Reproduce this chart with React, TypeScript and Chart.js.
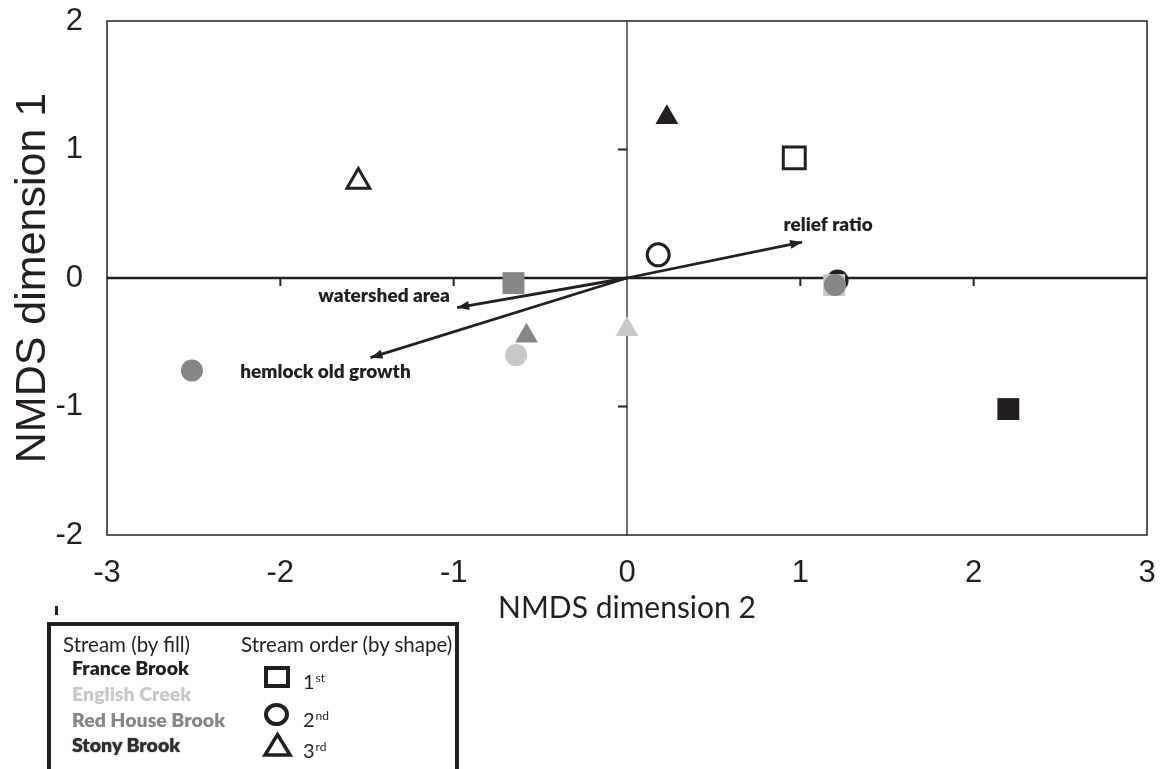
import React, { useEffect, useRef } from "react";
import { Chart, registerables } from "chart.js";
Chart.register(...registerables);

// ---- data ----
const streamNames = ["France Brook", "English Creek", "Red House Brook", "Stony Brook"];
const streamOrders = ["1st", "2nd", "3rd"];

const franceX = [2.2, 1.215, 0.23];
const franceY = [-1.02, -0.02, 1.25];
const franceOrder = [1, 2, 3];

const englishX = [1.195, -0.64, 0.0];
const englishY = [-0.055, -0.6, -0.4];
const englishOrder = [1, 2, 3];

const redHouseX = [-0.655, 1.2, -2.51, -0.58];
const redHouseY = [-0.04, -0.055, -0.72, -0.45];
const redHouseOrder = [1, 2, 2, 3];

const stonyX = [0.965, 0.18, -1.55];
const stonyY = [0.935, 0.18, 0.75];
const stonyOrder = [1, 2, 3];

const vectorLabels = ["relief ratio", "watershed area", "hemlock old growth"];
const vectorX = [1.01, -0.98, -1.48];
const vectorY = [0.28, -0.23, -0.62];

const xTicks = [-3, -2, -1, 0, 1, 2, 3];
const yTicks = [-2, -1, 0, 1, 2];

// ---- styles ----
const INK = "#231f20";
const LIGHT = "#c8c8c8";
const MID = "#868686";
const streamColors = [INK, LIGHT, MID, "#ffffff"];
const labelOffsets = [
  [26, -17],
  [-73, -12],
  [-45, 14],
];

const shapeFor = (o: number) => (o === 1 ? "rect" : o === 2 ? "circle" : "triangle");
const radiusFor = (o: number) => (o === 1 ? 15.5 : o === 2 ? 11 : 13.2);

function makePoints(xs: number[], ys: number[]) {
  return xs.map((x, i) => ({ x, y: ys[i] }));
}

const decorPlugin = {
  id: "decor",
  beforeDatasetsDraw(chart: any) {
    const { ctx, chartArea } = chart;
    const { left, right, top, bottom } = chartArea;
    const xs = chart.scales.x;
    const ys = chart.scales.y;
    const x0 = xs.getPixelForValue(0);
    const y0 = ys.getPixelForValue(0);
    ctx.save();
    ctx.strokeStyle = INK;
    ctx.lineWidth = 1.5;
    ctx.strokeRect(left, top, right - left, bottom - top);
    ctx.lineWidth = 2.5;
    ctx.beginPath();
    ctx.moveTo(left, y0);
    ctx.lineTo(right, y0);
    ctx.stroke();
    ctx.lineWidth = 1.3;
    ctx.beginPath();
    ctx.moveTo(x0, top);
    ctx.lineTo(x0, bottom);
    ctx.stroke();
    ctx.lineWidth = 2;
    xTicks
      .filter((v) => v !== 0 && v !== -3 && v !== 3)
      .forEach((v) => {
        const px = xs.getPixelForValue(v);
        ctx.beginPath();
        ctx.moveTo(px, y0);
        ctx.lineTo(px, y0 + 8);
        ctx.stroke();
      });
    yTicks
      .filter((v) => v !== 0 && v !== -2 && v !== 2)
      .forEach((v) => {
        const py = ys.getPixelForValue(v);
        ctx.beginPath();
        ctx.moveTo(x0 - 9, py);
        ctx.lineTo(x0, py);
        ctx.stroke();
      });
    ctx.restore();
  },
  afterDatasetsDraw(chart: any) {
    const { ctx } = chart;
    const xs = chart.scales.x;
    const ys = chart.scales.y;
    const ox = xs.getPixelForValue(0);
    const oy = ys.getPixelForValue(0);
    ctx.save();
    vectorX.forEach((vx, i) => {
      const tx = xs.getPixelForValue(vx);
      const ty = ys.getPixelForValue(vectorY[i]);
      const ang = Math.atan2(ty - oy, tx - ox);
      const len = 12;
      const hw = 4.5;
      const bx = tx - Math.cos(ang) * len;
      const by = ty - Math.sin(ang) * len;
      ctx.fillStyle = INK;
      ctx.beginPath();
      ctx.moveTo(tx, ty);
      ctx.lineTo(bx + Math.sin(ang) * hw, by - Math.cos(ang) * hw);
      ctx.lineTo(bx - Math.sin(ang) * hw, by + Math.cos(ang) * hw);
      ctx.closePath();
      ctx.fill();
      ctx.font = "800 19px Lato";
      ctx.textAlign = "center";
      ctx.textBaseline = "middle";
      ctx.fillText(vectorLabels[i], tx + labelOffsets[i][0], ty + labelOffsets[i][1]);
    });
    ctx.restore();
  },
};

export default function App() {
  const ref = useRef<HTMLCanvasElement>(null);
  useEffect(() => {
    if (!ref.current) return;
    const streamData = [
      { xs: franceX, ys: franceY, ord: franceOrder },
      { xs: englishX, ys: englishY, ord: englishOrder },
      { xs: redHouseX, ys: redHouseY, ord: redHouseOrder },
      { xs: stonyX, ys: stonyY, ord: stonyOrder },
    ];
    const drawOrder = [4, 3, 2, 1];
    const pointSets = streamData.map((s, i) => ({
      label: streamNames[i],
      data: makePoints(s.xs, s.ys),
      pointStyle: s.ord.map(shapeFor),
      pointRadius: s.ord.map(radiusFor),
      pointBackgroundColor: streamColors[i],
      pointBorderColor: i === 3 ? INK : streamColors[i],
      pointBorderWidth: i === 3 ? 3 : 0,
      showLine: false,
      order: drawOrder[i],
    }));
    const arrowSets = vectorX.map((vx, i) => ({
      label: vectorLabels[i],
      data: [
        { x: 0, y: 0 },
        { x: vx, y: vectorY[i] },
      ],
      showLine: true,
      borderColor: INK,
      borderWidth: 2.8,
      pointRadius: 0,
      order: 10,
    }));
    const chart = new Chart(ref.current, {
      type: "scatter",
      data: { datasets: [...arrowSets, ...pointSets] as any },
      options: {
        responsive: false,
        animation: false,
        events: [],
        layout: { autoPadding: false, padding: { left: 0, top: 21, right: 14, bottom: 134 } },
        plugins: { legend: { display: false }, tooltip: { enabled: false } },
        scales: {
          x: {
            type: "linear",
            min: -3,
            max: 3,
            afterFit: (s: any) => {
              s.height = 100;
              s.paddingLeft = 0;
              s.paddingRight = 0;
            },
            afterBuildTicks: (s: any) => {
              s.ticks = xTicks.map((v) => ({ value: v }));
            },
            grid: { display: false, drawTicks: false },
            border: { display: false },
            ticks: {
              padding: 20,
              color: INK,
              font: { family: "'Liberation Sans Narrow', 'Liberation Sans'", size: 31 },
              maxRotation: 0,
            },
            title: {
              display: true,
              text: "NMDS dimension 2",
              color: INK,
              font: { family: "Lato", size: 30 },
              padding: { top: 0, bottom: 9 },
            },
          },
          y: {
            type: "linear",
            min: -2,
            max: 2,
            afterFit: (s: any) => {
              s.width = 107;
              s.paddingTop = 0;
              s.paddingBottom = 0;
            },
            afterBuildTicks: (s: any) => {
              s.ticks = yTicks.map((v) => ({ value: v }));
            },
            grid: { display: false, drawTicks: false },
            border: { display: false },
            ticks: {
              padding: 24,
              color: INK,
              font: { family: "'Liberation Sans'", size: 31 },
            },
            title: {
              display: true,
              text: "NMDS dimension 1",
              color: INK,
              font: { family: "'Liberation Sans'", size: 43 },
              padding: { top: 7, bottom: 0 },
            },
          },
        },
      },
      plugins: [decorPlugin],
    });
    return () => chart.destroy();
  }, []);

  const itemColors = [INK, LIGHT, MID, "#2e2e2e"];
  const rowY = [668, 694, 720, 745];
  const ordY = [678, 716, 747];
  return (
    <div
      style={{
        position: "absolute",
        left: 0,
        top: 0,
        width: 1161,
        height: 769,
        overflow: "hidden",
        background: "#fff",
      }}
    >
      <canvas ref={ref} width={1161} height={769} style={{ position: "absolute", left: 0, top: 0 }} />
      <div style={{ position: "absolute", left: 55, top: 606, width: 3, height: 9, background: INK }} />
      <div
        style={{
          position: "absolute",
          left: 47,
          top: 622,
          width: 412,
          height: 170,
          border: `4px solid ${INK}`,
          boxSizing: "border-box",
        }}
      />
      <div style={legendText(63, 644, 20.5, 400, INK)}>Stream (by fill)</div>
      <div style={legendText(241, 644, 20.5, 400, INK)}>Stream order (by shape)</div>
      {streamNames.map((n, i) => (
        <div
          key={n}
          style={{
            ...legendText(72, rowY[i], 19.5, 800, itemColors[i]),
            textShadow: i === 3 ? "0 0 1.5px #777" : undefined,
          }}
        >
          {n}
        </div>
      ))}
      <div
        style={{
          position: "absolute",
          left: 264,
          top: 666,
          width: 26,
          height: 22,
          border: `4px solid ${INK}`,
          boxSizing: "border-box",
        }}
      />
      <div
        style={{
          position: "absolute",
          left: 264,
          top: 703,
          width: 25,
          height: 23,
          border: `4px solid ${INK}`,
          borderRadius: "50%",
          boxSizing: "border-box",
        }}
      />
      <svg style={{ position: "absolute", left: 262, top: 731 }} width={31} height={28}>
        <polygon points="15.5,3.5 28,24 3,24" fill="none" stroke={INK} strokeWidth={3.5} strokeLinejoin="miter" />
      </svg>
      {streamOrders.map((o, i) => (
        <div key={o} style={legendText(303, ordY[i], 20, 400, INK)}>
          {o.slice(0, 1)}
          <sup style={{ fontSize: 12, verticalAlign: "7px", marginLeft: 1 }}>{o.slice(1)}</sup>
        </div>
      ))}
    </div>
  );
}

function legendText(left: number, cy: number, size: number, weight: number, color: string): React.CSSProperties {
  return {
    position: "absolute",
    left,
    top: cy - 12,
    height: 24,
    lineHeight: "24px",
    fontFamily: "Lato",
    fontSize: size,
    fontWeight: weight,
    color,
    whiteSpace: "nowrap",
  };
}
